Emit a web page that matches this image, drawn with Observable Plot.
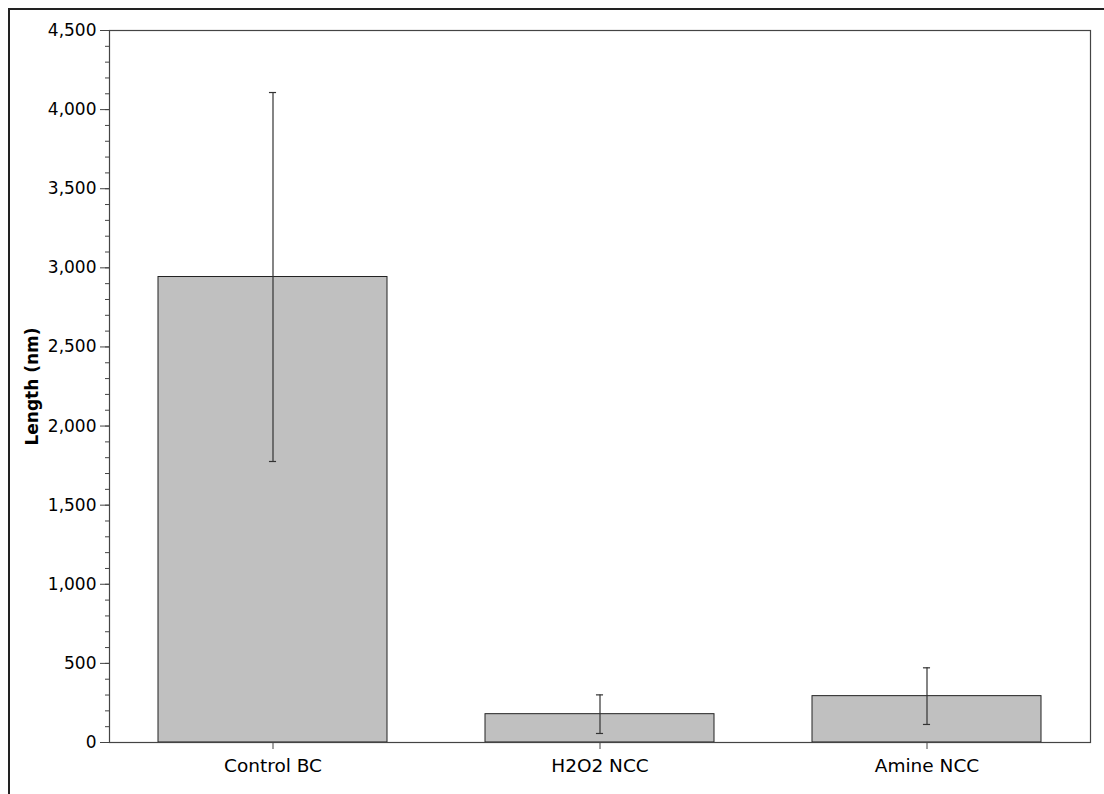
<!DOCTYPE html>
<html>
<head>
<meta charset="utf-8">
<script src="https://cdn.jsdelivr.net/npm/d3@7"></script>
<script src="https://cdn.jsdelivr.net/npm/@observablehq/plot@0.6"></script>
<style>
  html, body { margin: 0; padding: 0; background: #fff; }
  #frame { position: absolute; left: 8px; top: 8px; width: 1200px; height: 900px;
           border-left: 2px solid #222; border-top: 2px solid #222; box-sizing: border-box; }
  #chart { position: absolute; left: 0; top: 0; }
  svg { overflow: visible; }
</style>
</head>
<body>
<div id="frame"></div>
<div id="chart"></div>
<script>
const categories = ["Control BC", "H2O2 NCC", "Amine NCC"];
const means = [2942, 179, 293];
const errors = [1166, 122, 179];
const majorTicks = [0, 500, 1000, 1500, 2000, 2500, 3000, 3500, 4000, 4500];
const minorTicks = d3.range(0, 4501, 100);

const data = categories.map((c, i) => ({
  cat: c, mean: means[i], lo: means[i] - errors[i], hi: means[i] + errors[i]
}));

const W = 1104, H = 794;
const mL = 109, mR = 14, mT = 30, mB = 52;
const plotW = W - mL - mR;
const step = plotW / 3;
const bandW = step * 0.7;
const capW = 7;
const capInset = (bandW - capW) / 2;

const chart = Plot.plot({
  width: W, height: H,
  marginLeft: mL, marginRight: mR, marginTop: mT, marginBottom: mB,
  style: { fontFamily: "DejaVu Sans, sans-serif", fontSize: "17px", color: "#000", background: "transparent" },
  x: { domain: categories, paddingInner: 0.3, paddingOuter: 0.15, label: null },
  y: { domain: [0, 4500], label: null },
  marks: [
    Plot.barY(data, { x: "cat", y: "mean", fill: "#c0c0c0", stroke: "#222", strokeWidth: 1 }),
    Plot.ruleX(data, { x: "cat", y1: "lo", y2: "hi", stroke: "#333", strokeWidth: 1.2 }),
    Plot.tickY(data, { x: "cat", y: "lo", stroke: "#333", strokeWidth: 1.2, insetLeft: capInset, insetRight: capInset }),
    Plot.tickY(data, { x: "cat", y: "hi", stroke: "#333", strokeWidth: 1.2, insetLeft: capInset, insetRight: capInset }),
    Plot.frame({ stroke: "#444", strokeWidth: 1.2 }),
    Plot.axisY({ ticks: minorTicks, tickSize: 4, text: null, stroke: "#444" }),
    Plot.axisY({ ticks: majorTicks, tickSize: 9, tickPadding: 4, tickFormat: d3.format(","), stroke: "#444", fill: "#000", label: null, fontSize: 17 }),
    Plot.axisX({ tickSize: 7, tickPadding: 9, stroke: "#444", fill: "#000", label: null, fontSize: 18.5 }),
    Plot.text(["Length (nm)"], { frameAnchor: "left", dx: -77, rotate: -90, textAnchor: "middle", fontWeight: "bold", fontSize: 17, fill: "#000" })
  ]
});
document.getElementById("chart").appendChild(chart);
</script>
</body>
</html>
